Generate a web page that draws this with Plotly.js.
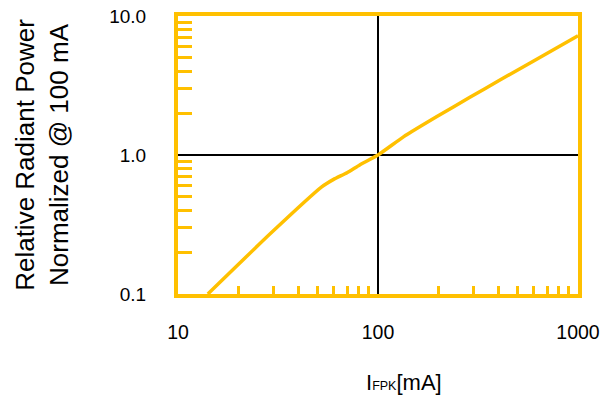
<!DOCTYPE html>
<html>
<head>
<meta charset="utf-8">
<script src="https://cdn.plot.ly/plotly-3.0.1.min.js"></script>
<style>html,body{margin:0;padding:0;background:#fff;}#chart{width:610px;height:406px;}</style>
</head>
<body>
<div id="chart"></div>
<script>
// Drive current I_FPK [mA]
var currentMA = [14.1, 28.8, 52.3, 60, 70, 81, 100, 134, 197, 288, 407, 600, 1000];
// Relative radiant power normalized @ 100 mA
var relPower = [0.1, 0.27, 0.59, 0.668, 0.746, 0.848, 1.0, 1.35, 1.89, 2.6, 3.46, 4.75, 7.2];

var xTickVals = [10, 100, 1000];
var xTickText = ['10', '100', '1000'];
var xMinorVals = [20, 30, 40, 50, 60, 70, 80, 90, 200, 300, 400, 500, 600, 700, 800, 900];
var yTickVals = [0.1, 1, 10];
var yTickText = ['0.1', '1.0', '10.0'];
var yMinorVals = [0.2, 0.3, 0.4, 0.5, 0.6, 0.7, 0.8, 0.9, 2, 3, 4, 5, 6, 7, 8, 9];

var orange = '#FFC000';
var fontFam = 'Liberation Sans, Arial, sans-serif';

var trace = {
  x: currentMA, y: relPower, type: 'scatter', mode: 'lines',
  line: {color: orange, width: 3.5, shape: 'spline', smoothing: 0.4},
  hoverinfo: 'skip'
};

var layout = {
  width: 610, height: 406,
  margin: {l: 178, r: 32, t: 16, b: 112},
  paper_bgcolor: '#fff', plot_bgcolor: '#fff',
  showlegend: false,
  font: {family: fontFam, color: '#000', size: 19},
  xaxis: {
    type: 'log', range: [1, 3],
    tickmode: 'array', tickvals: xTickVals, ticktext: xTickText,
    ticks: '', ticklabelstandoff: 18,
    showgrid: true, gridcolor: '#000', gridwidth: 1.6,
    showline: true, linecolor: orange, linewidth: 4, mirror: true,
    zeroline: false,
    minor: {tickmode: 'array', tickvals: xMinorVals, ticks: 'inside', ticklen: 8, tickwidth: 3, tickcolor: orange, showgrid: false},
    tickfont: {size: 19.5, family: fontFam, color: '#000'}
  },
  yaxis: {
    type: 'log', range: [-1, 1],
    tickmode: 'array', tickvals: yTickVals, ticktext: yTickText,
    ticks: '', ticklabelstandoff: 24,
    showgrid: true, gridcolor: '#000', gridwidth: 1.6,
    showline: true, linecolor: orange, linewidth: 4, mirror: true,
    zeroline: false,
    minor: {tickmode: 'array', tickvals: yMinorVals, ticks: 'inside', ticklen: 14, tickwidth: 3, tickcolor: orange, showgrid: false},
    tickfont: {size: 19, family: fontFam, color: '#000'},
    title: {text: 'Relative Radiant Power<br>Normalized @ 100 mA', font: {size: 26, family: fontFam, color: '#000'}, standoff: 34}
  },
  annotations: [{
    text: 'I<span style="font-size:12.5px">FPK</span>[mA]',
    xref: 'paper', yref: 'paper', x: 0.5, y: 0, xshift: 26, yshift: -88,
    xanchor: 'center', yanchor: 'middle', showarrow: false,
    font: {size: 22, family: fontFam, color: '#000'}
  }]
};

Plotly.newPlot('chart', [trace], layout, {displayModeBar: false, staticPlot: true});
</script>
</body>
</html>
